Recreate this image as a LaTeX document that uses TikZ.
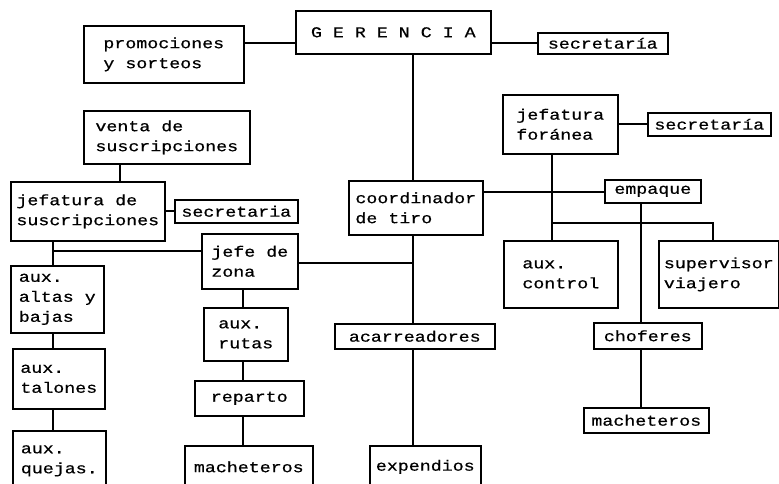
\documentclass[tikz,border=0pt]{standalone}
\usepackage{fontspec}
\setmonofont[FakeStretch=1.22, FakeBold=0.6]{Liberation Mono}
\tikzset{
    common/.style={anchor=north west, draw, rectangle, line width=1.6pt, inner sep=2pt, align=left,
        font=\ttfamily\fontsize{15}{20}\selectfont},
    unit/.style 2 args={common, minimum width=#1, minimum height=#2},
    link/.style={line width=1.6pt}
}

\begin{document}
\begin{tikzpicture}[x=1pt, y=-1pt]
    \useasboundingbox (0,0) rectangle (779,484);

    % top level
    \node[unit={195}{43}] (ger) at (295,10) {G E R E N C I A};
    \node[unit={160}{57}] (promo) at (83,25) {promociones\\y sorteos};
    \node[unit={130}{21}] (secger) at (537,32) {secretaría};

    % suscripciones
    \node[unit={166}{53}] (venta) at (83,110) {venta de\\suscripciones};
    \node[unit={154}{59}] (jsus) at (10,181) {jefatura de\\suscripciones};
    \node[unit={123}{23}] (secsus) at (174,199) {secretaria};
    \node[unit={93}{67}] (altas) at (10,265) {aux.\\altas y\\bajas};
    \node[unit={92}{60}] (talones) at (12,348) {aux.\\talones};
    \node[unit={93}{60}] (quejas) at (12,430) {aux.\\quejas.};

    % zona
    \node[unit={96}{55}] (zona) at (201,233) {jefe de\\zona};
    \node[unit={84}{53}] (rutas) at (203,307) {aux.\\rutas};
    \node[unit={109}{35}] (reparto) at (194,380) {reparto};
    \node[unit={128}{42}] (machzona) at (184,445) {macheteros};

    % tiro
    \node[unit={134}{54}] (coord) at (348,180) {coordinador\\de tiro};
    \node[unit={160}{25}] (acarr) at (334,323) {acarreadores};
    \node[unit={111}{42}] (expend) at (369,445) {expendios};

    % foranea
    \node[unit={115}{59}] (jfor) at (502,94) {jefatura\\foránea};
    \node[unit={123}{23}] (secfor) at (647,112) {secretaría};
    \node[unit={96}{23}] (emp) at (604,179) {empaque};
    \node[unit={114}{67}] (control) at (503,240) {aux.\\control};
    \node[unit={120}{67}] (superv) at (658,240) {supervisor\\viajero};
    \node[unit={108}{26}] (chof) at (593,322) {choferes};
    \node[unit={125}{25}] (machfor) at (583,407) {macheteros};

    % rails
    \coordinate (promrail) at (0,43);
    \coordinate (forrow) at (0,124);
    \coordinate (emprow) at (0,192);
    \coordinate (susrow) at (0,211);
    \coordinate (suprail) at (0,223);
    \coordinate (altrail) at (0,251);
    \coordinate (zonrow) at (0,263);
    \coordinate (susrail) at (120,0);
    \coordinate (auxrail) at (53,0);
    \coordinate (zonrail) at (243,0);
    \coordinate (tirorail) at (413,0);
    \coordinate (forrail) at (552,0);
    \coordinate (emprail) at (641,0);
    \coordinate (viarail) at (713,0);

    \draw[link] (promo.east |- promrail) -- (ger.west |- promrail);
    \draw[link] (ger.east |- promrail) -- (secger.west |- promrail);
    \draw[link] (ger.south -| tirorail) -- (coord.north -| tirorail);
    \draw[link] (coord.south -| tirorail) -- (acarr.north -| tirorail);
    \draw[link] (zona.east |- zonrow) -- (zonrow -| tirorail);
    \draw[link] (acarr.south -| tirorail) -- (expend.north -| tirorail);

    \draw[link] (venta.south -| susrail) -- (jsus.north -| susrail);
    \draw[link] (jsus.east |- susrow) -- (secsus.west |- susrow);
    \draw[link] (jsus.south -| auxrail) -- (altas.north -| auxrail);
    \draw[link] (altrail -| auxrail) -- (altrail -| zona.west);
    \draw[link] (altas.south -| auxrail) -- (talones.north -| auxrail);
    \draw[link] (talones.south -| auxrail) -- (quejas.north -| auxrail);

    \draw[link] (zona.south -| zonrail) -- (rutas.north -| zonrail);
    \draw[link] (rutas.south -| zonrail) -- (reparto.north -| zonrail);
    \draw[link] (reparto.south -| zonrail) -- (machzona.north -| zonrail);

    \draw[link] (jfor.east |- forrow) -- (secfor.west |- forrow);
    \draw[link] (jfor.south -| forrail) -- (control.north -| forrail);
    \draw[link] (coord.east |- emprow) -- (emp.west |- emprow);
    \draw[link] (suprail -| forrail) -| (superv.north -| viarail);
    \draw[link] (emp.south -| emprail) -- (chof.north -| emprail);
    \draw[link] (chof.south -| emprail) -- (machfor.north -| emprail);
\end{tikzpicture}
\end{document}
